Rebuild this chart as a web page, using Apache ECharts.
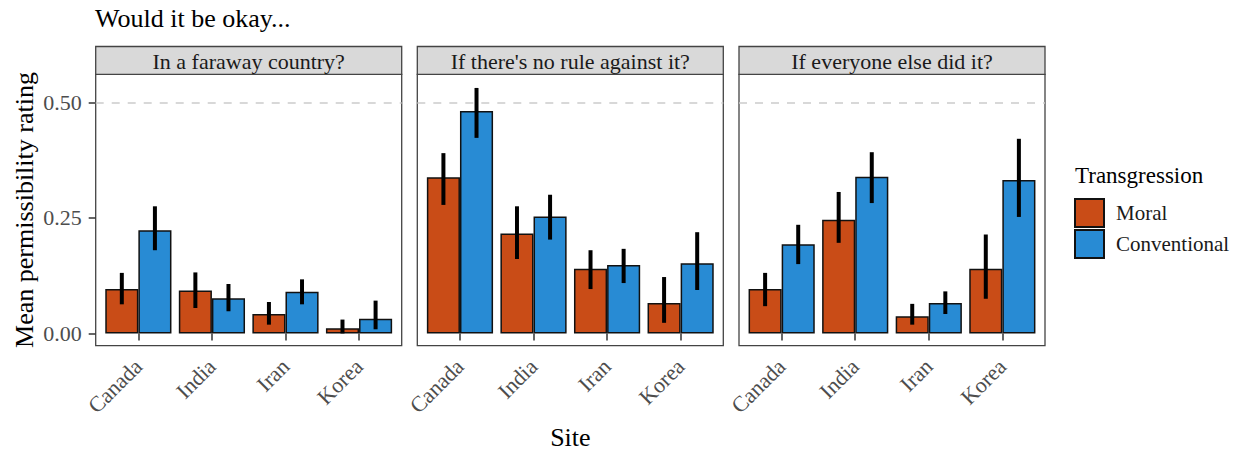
<!DOCTYPE html>
<html>
<head>
<meta charset="utf-8">
<title>Would it be okay...</title>
<script src="https://cdn.jsdelivr.net/npm/echarts@6/dist/echarts.min.js"></script>
<style>
  html, body { margin: 0; padding: 0; background: #ffffff; }
  #chart { width: 1242px; height: 451px; }
</style>
</head>
<body>
<div id="chart"></div>
<script>
// ---- data -------------------------------------------------------------
const sites = ['Canada', 'India', 'Iran', 'Korea'];
const facets = ['In a faraway country?', "If there's no rule against it?", 'If everyone else did it?'];
const transgressions = ['Moral', 'Conventional'];

// mean permissibility rating, one row per facet, one value per site
const moralMean = [
  [0.096, 0.093, 0.042, 0.011],
  [0.338, 0.216, 0.140, 0.066],
  [0.096, 0.246, 0.037, 0.140]
];
const moralLow = [
  [0.063, 0.055, 0.019, 0.000],
  [0.278, 0.161, 0.096, 0.023],
  [0.059, 0.196, 0.019, 0.075]
];
const moralHigh = [
  [0.131, 0.132, 0.068, 0.030],
  [0.390, 0.275, 0.180, 0.122],
  [0.131, 0.306, 0.064, 0.214]
];
const conventionalMean = [
  [0.223, 0.076, 0.090, 0.032],
  [0.481, 0.253, 0.148, 0.152],
  [0.193, 0.339, 0.066, 0.332]
];
const conventionalLow = [
  [0.180, 0.048, 0.063, 0.009],
  [0.423, 0.203, 0.109, 0.094],
  [0.150, 0.282, 0.042, 0.252]
];
const conventionalHigh = [
  [0.275, 0.107, 0.117, 0.071],
  [0.531, 0.300, 0.183, 0.219],
  [0.235, 0.392, 0.091, 0.421]
];
const yTicks = [0, 0.25, 0.5];
const referenceLevel = 0.5;

// ---- layout & style ---------------------------------------------------
const FONT = "'Liberation Serif', 'DejaVu Serif', serif";
const COLORS = ['#C94C17', '#288BD4'];
const PANEL_LEFT = [95.7, 417.3, 739];
const PANEL_W = 306;
const PANEL_TOP = 74.3;
const PANEL_H = 271.4;
const STRIP_TOP = 46.5;
const STRIP_H = PANEL_TOP - STRIP_TOP;
const Y_MIN = -0.0265;
const Y_MAX = 0.5605;
// discrete axis padding: 0.6 category units each side, bands hold 1 unit
const INSET = PANEL_W * 0.1 / (sites.length + 1.2);
const BAR_FRACTION = 0.45; // each dodged bar = 45% of a category band

const chart = echarts.init(document.getElementById('chart'), null, { renderer: 'svg' });

const grids = [], xAxes = [], yAxes = [], series = [], graphics = [];

facets.forEach((facet, p) => {
  const frame = 2 * p, plot = 2 * p + 1;
  grids.push({
    left: PANEL_LEFT[p], top: PANEL_TOP, width: PANEL_W, height: PANEL_H,
    show: true, backgroundColor: '#ffffff', borderColor: '#444444', borderWidth: 1.3
  });
  grids.push({
    left: PANEL_LEFT[p] + INSET, top: PANEL_TOP, width: PANEL_W - 2 * INSET, height: PANEL_H,
    show: false
  });

  // frame axes: full panel width, carries the y ticks and reference line
  xAxes.push({ gridIndex: frame, type: 'value', min: 0, max: 1, show: false });
  yAxes.push({
    gridIndex: frame, type: 'value', min: Y_MIN, max: Y_MAX, show: p === 0,
    axisLine: { show: false },
    splitLine: { show: false },
    axisTick: { show: true, length: 7, customValues: yTicks, lineStyle: { color: '#333333', width: 1.5 } },
    axisLabel: {
      customValues: yTicks, margin: 14, color: '#4d4d4d', fontSize: 22, fontFamily: FONT,
      formatter: v => v.toFixed(2)
    },
    name: p === 0 ? 'Mean permissibility rating' : '',
    nameLocation: 'middle', nameGap: 58, nameRotate: 90,
    nameTextStyle: { fontSize: 26, fontFamily: FONT, color: '#000000' }
  });

  // plot axes: category bands for the sites
  xAxes.push({
    gridIndex: plot, type: 'category', data: sites,
    axisLine: { show: false },
    splitLine: { show: false },
    axisTick: { show: true, alignWithLabel: true, length: 7, lineStyle: { color: '#333333', width: 1.5 } },
    axisLabel: { rotate: 45, margin: 17, color: '#4d4d4d', fontSize: 22, fontFamily: FONT, interval: 0 }
  });
  yAxes.push({ gridIndex: plot, type: 'value', min: Y_MIN, max: Y_MAX, show: false });

  series.push({
    type: 'line', xAxisIndex: frame, yAxisIndex: frame, data: [], silent: true,
    markLine: {
      silent: true, symbol: 'none', label: { show: false },
      lineStyle: { type: [8, 8], color: '#cccccc', width: 1.6 },
      data: [{ yAxis: referenceLevel }]
    }
  });

  const means = [moralMean[p], conventionalMean[p]];
  const lows = [moralLow[p], conventionalLow[p]];
  const highs = [moralHigh[p], conventionalHigh[p]];

  transgressions.forEach((name, s) => {
    series.push({
      type: 'bar', name: name, xAxisIndex: plot, yAxisIndex: plot,
      data: means[s], barGap: '0%', barCategoryGap: '10%',
      itemStyle: { color: COLORS[s], borderColor: '#111111', borderWidth: 1.5 },
      silent: true
    });
  });

  // error bars, drawn at the centre of each dodged bar
  const errData = [];
  transgressions.forEach((name, s) => {
    sites.forEach((site, i) => errData.push([i, lows[s][i], highs[s][i], s]));
  });
  series.push({
    type: 'custom', xAxisIndex: plot, yAxisIndex: plot, data: errData, silent: true, z: 5,
    encode: { x: 0, y: [1, 2] },
    renderItem: (params, api) => {
      const band = api.size([1, 0])[0];
      const side = api.value(3) === 0 ? -1 : 1;
      const lo = api.coord([api.value(0), api.value(1)]);
      const hi = api.coord([api.value(0), api.value(2)]);
      const x = lo[0] + side * band * BAR_FRACTION / 2;
      return {
        type: 'line',
        shape: { x1: x, y1: lo[1], x2: x, y2: hi[1] },
        style: { stroke: '#000000', lineWidth: 4 }
      };
    }
  });

  // facet strip
  graphics.push({
    type: 'group',
    children: [
      {
        type: 'rect',
        shape: { x: PANEL_LEFT[p], y: STRIP_TOP, width: PANEL_W, height: STRIP_H },
        style: { fill: '#d9d9d9', stroke: '#444444', lineWidth: 1.3 }
      },
      {
        type: 'text',
        x: PANEL_LEFT[p] + PANEL_W / 2, y: STRIP_TOP + STRIP_H / 2 + 1,
        style: {
          text: facet, fill: '#1a1a1a', fontSize: 22, fontFamily: FONT,
          align: 'center', verticalAlign: 'middle'
        }
      }
    ]
  });
});

// x-axis title and legend title
graphics.push({
  type: 'text',
  x: (PANEL_LEFT[0] + PANEL_LEFT[2] + PANEL_W) / 2, y: 437,
  style: { text: 'Site', fill: '#000000', fontSize: 26, fontFamily: FONT, align: 'center', verticalAlign: 'middle' }
});
graphics.push({
  type: 'text',
  x: 1075, y: 175,
  style: { text: 'Transgression', fill: '#000000', fontSize: 23, fontFamily: FONT, align: 'left', verticalAlign: 'middle' }
});

chart.setOption({
  animation: false,
  backgroundColor: '#ffffff',
  title: {
    text: 'Would it be okay...', left: 95, top: 5, padding: 0,
    textStyle: { fontSize: 26, fontWeight: 'normal', fontFamily: FONT, color: '#000000' }
  },
  legend: {
    data: transgressions, orient: 'vertical', left: 1069, top: 193,
    itemWidth: 29, itemHeight: 28, itemGap: 1, icon: 'rect', selectedMode: false,
    textStyle: { fontSize: 21, fontFamily: FONT, color: '#1a1a1a', padding: [0, 0, 0, 7] }
  },
  grid: grids,
  xAxis: xAxes,
  yAxis: yAxes,
  series: series,
  graphic: graphics
});
</script>
</body>
</html>
